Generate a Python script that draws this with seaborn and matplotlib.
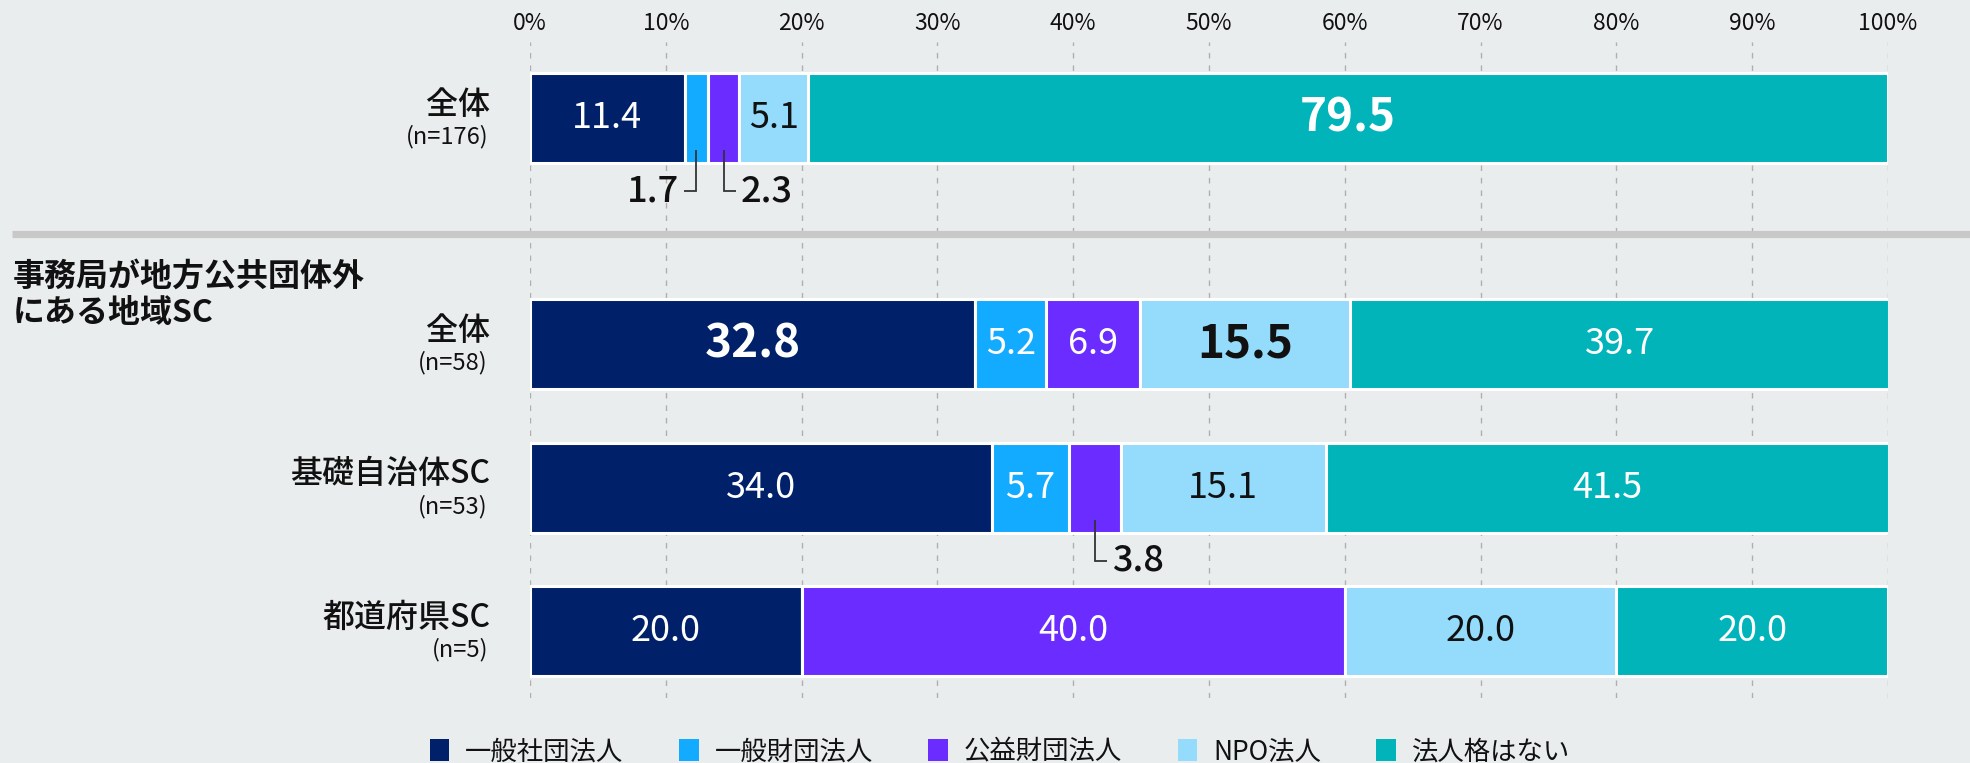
import matplotlib
matplotlib.use("Agg")
import matplotlib.pyplot as plt
import seaborn as sns
import numpy as np
from matplotlib.patches import Patch
from matplotlib.lines import Line2D

# ---------------- data ----------------
segments = ["一般社団法人", "一般財団法人", "公益財団法人", "NPO法人", "法人格はない"]
seg_colors = ["#002169", "#12ABFF", "#6A2CFF", "#94DBFC", "#00B4BA"]
seg_text_colors = ["white", "white", "white", "#111111", "white"]

top_names = ["全体"]
top_ns = ["(n=176)"]
row_all = [11.4, 1.7, 2.3, 5.1, 79.5]

section_title = ["事務局が地方公共団体外", "にある地域SC"]
sub_names = ["全体", "基礎自治体SC", "都道府県SC"]
sub_ns = ["(n=58)", "(n=53)", "(n=5)"]
row_outside_all = [32.8, 5.2, 6.9, 15.5, 39.7]
row_kiso = [34.0, 5.7, 3.8, 15.1, 41.5]
row_pref = [20.0, 0.0, 40.0, 20.0, 20.0]

# emphasised (bold, larger) labels: (row index, segment index)
top_bold = [(0, 4)]
sub_bold = [(0, 0), (0, 3)]
# small segments labelled with a leader line: (row, segment, side)
top_callouts = [(0, 1, "left"), (0, 2, "right")]
sub_callouts = [(1, 2, "right")]

tick_values = list(range(0, 101, 10))

# ---------------- style ----------------
BG = "#EAEDEE"
sns.set_theme(style="white")
plt.rcParams["font.family"] = ["Noto Sans CJK JP", "DejaVu Sans"]

W, H = 1970, 763
fig = plt.figure(figsize=(W / 100, H / 100), dpi=100, facecolor=BG)

X0, X1 = 530, 1888
PX_UNIT = 143.5          # px per category step
BAR_W = 90 / PX_UNIT
PX_X = (X1 - X0) / 100.0


def make_ax(top_px, bot_px, first_center_px):
    ax = fig.add_axes([X0 / W, 1 - bot_px / H, (X1 - X0) / W, (bot_px - top_px) / H])
    ax.set_facecolor("none")
    ylo = -(first_center_px - top_px) / PX_UNIT
    yhi = (bot_px - first_center_px) / PX_UNIT
    return ax, (yhi, ylo)


ax_top, ylim_top = make_ax(42, 233, 118)
ax_bot, ylim_bot = make_ax(233, 698, 344)


def draw_stack(ax, names, rows, bold, callouts, ylim):
    data = np.array(rows)
    lefts = np.cumsum(data, axis=1) - data
    for s in range(len(segments)):
        n_before = len(ax.patches)
        sns.barplot(x=data[:, s], y=list(names), orient="h", color=seg_colors[s],
                    saturation=1, width=BAR_W, edgecolor="white", linewidth=2.2,
                    ax=ax, errorbar=None)
        for p, left in zip(ax.patches[n_before:], lefts[:, s]):
            p.set_x(left)
    call_set = {(r, s): side for r, s, side in callouts}
    for r in range(data.shape[0]):
        for s in range(data.shape[1]):
            v = data[r, s]
            if v <= 0:
                continue
            xc = lefts[r, s] + v / 2
            if (r, s) in call_set:
                side = call_set[(r, s)]
                y0 = r + BAR_W / 2 - 13 / PX_UNIT
                y1 = r + BAR_W / 2 + 28 / PX_UNIT
                dx = 12 / PX_X
                xe = xc - dx if side == "left" else xc + dx
                ax.plot([xc, xc, xe], [y0, y1, y1], color="#333333", lw=1.3,
                        solid_joinstyle="miter", solid_capstyle="butt", zorder=5)
                gap = 5 / PX_X
                ax.text(xe - gap if side == "left" else xe + gap, y1, f"{v:.1f}",
                        ha="right" if side == "left" else "left", va="center",
                        fontsize=26, fontweight="medium", color="#111111", zorder=6)
                continue
            is_bold = (r, s) in bold
            ax.text(xc, r, f"{v:.1f}", ha="center", va="center",
                    fontsize=33 if is_bold else 26,
                    fontweight="bold" if is_bold else "normal",
                    color=seg_text_colors[s], zorder=6)
    ax.set_xlim(0, 100)
    ax.set_ylim(*ylim)
    ax.set_xticks(tick_values)
    ax.set_yticks([])
    ax.set_ylabel("")
    ax.set_xlabel("")
    for sp in ax.spines.values():
        sp.set_visible(False)
    ax.set_axisbelow(True)
    ax.grid(axis="x", color="#AFAFAF", linestyle=(0, (4, 5)), linewidth=1.0)
    ax.grid(axis="y", visible=False)


draw_stack(ax_top, top_names, [row_all], top_bold, top_callouts, ylim_top)
draw_stack(ax_bot, sub_names, [row_outside_all, row_kiso, row_pref], sub_bold,
           sub_callouts, ylim_bot)

# tick labels on top only
ax_top.xaxis.tick_top()
ax_top.set_xticklabels([f"{v}%" for v in tick_values], fontsize=16.5, color="#111111")
ax_top.tick_params(axis="x", length=0, pad=5)
ax_bot.tick_params(axis="x", length=0, labelbottom=False, labeltop=False)


def cat_labels(ax, names, ns):
    for i, (nm, n) in enumerate(zip(names, ns)):
        ax.annotate(nm, xy=(0, i), xycoords=("axes fraction", "data"),
                    xytext=(-40, 13), textcoords="offset pixels",
                    ha="right", va="center", fontsize=23, fontweight="medium",
                    color="#111111")
        ax.annotate(n, xy=(0, i), xycoords=("axes fraction", "data"),
                    xytext=(-42, -19), textcoords="offset pixels",
                    ha="right", va="center", fontsize=17, color="#111111")


cat_labels(ax_top, top_names, top_ns)
cat_labels(ax_bot, sub_names, sub_ns)

# separator
fig.add_artist(Line2D([12 / W, 1.0], [1 - 234 / H, 1 - 234 / H], color="#C8C8C8",
                      lw=5.2, solid_capstyle="butt"))

# section title
for k, line in enumerate(section_title):
    fig.text(13 / W, 1 - (277 + 36 * k) / H, line, ha="left", va="center",
             fontsize=23, fontweight="bold", color="#111111")

# legend
handles = [Patch(facecolor=c, edgecolor="none") for c in seg_colors]
fig.legend(handles, segments, ncol=5, loc="center",
           bbox_to_anchor=(0.5 + 15 / W, 1 - 752 / H),
           frameon=False, fontsize=19, handlelength=0.75, handleheight=0.9,
           handletextpad=0.6, columnspacing=2.1, labelcolor="#111111")

fig.savefig("out.png", dpi=100, facecolor=BG)
